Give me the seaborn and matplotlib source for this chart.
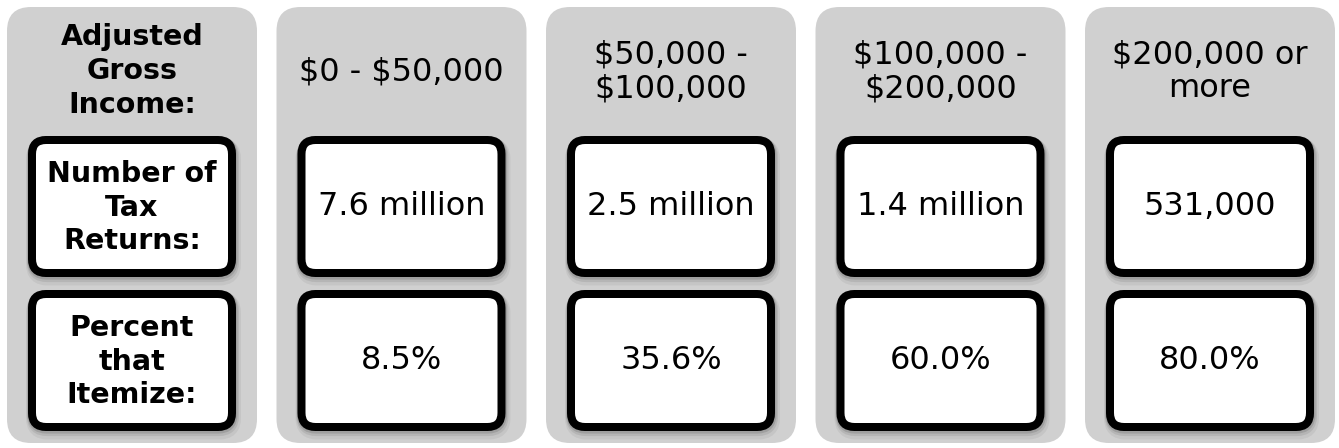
import matplotlib
matplotlib.use("Agg")
import matplotlib.pyplot as plt
import seaborn as sns
from matplotlib.patches import FancyBboxPatch

# ---- data ----
row_labels = ["Adjusted\nGross\nIncome:", "Number of\nTax\nReturns:", "Percent\nthat\nItemize:"]
income_brackets = ["$0 - $50,000", "$50,000 -\n$100,000", "$100,000 -\n$200,000", "$200,000 or\nmore"]
tax_returns = ["7.6 million", "2.5 million", "1.4 million", "531,000"]
percent_itemize = [8.5, 35.6, 60.0, 80.0]

sns.set_theme(style="white")
plt.rcParams['font.family'] = ['DejaVu Sans']
plt.rcParams['text.color'] = 'black'

W, H = 1339, 448
fig = plt.figure(figsize=(W / 100, H / 100), dpi=100)
ax = fig.add_axes([0, 0, 1, 1])
ax.set_xlim(0, W)
ax.set_ylim(H, 0)
ax.axis('off')

PANEL_GRAY = "#d0d0d0"
col_x0, col_step, col_w = 7, 269.5, 250
panel_top, panel_bot = 7, 443
box_rows = [(136, 277), (290, 431)]
inset = 21
border_px = 8
lw_pt = border_px * 72 / 100


def panel(x0):
    ax.add_patch(FancyBboxPatch((x0, panel_top), col_w, panel_bot - panel_top,
                                boxstyle="round,pad=0,rounding_size=24",
                                fc=PANEL_GRAY, ec="none", zorder=1))


def box(x0, row):
    top, bot = box_rows[row]
    bx0 = x0 + inset + border_px / 2
    bx1 = x0 + col_w - inset - border_px / 2
    by0 = top + border_px / 2
    by1 = bot - border_px / 2
    for k, a in [(5, 0.05), (3, 0.08), (1.5, 0.12)]:
        ax.add_patch(FancyBboxPatch((bx0 + k * 0.3, by0 + k), bx1 - bx0, by1 - by0,
                                    boxstyle="round,pad=0,rounding_size=14",
                                    fc="none", ec=(0, 0, 0, a), lw=lw_pt + k, zorder=2))
    ax.add_patch(FancyBboxPatch((bx0, by0), bx1 - bx0, by1 - by0,
                                boxstyle="round,pad=0,rounding_size=14",
                                fc="white", ec="black", lw=lw_pt, zorder=3))
    return (bx0 + bx1) / 2, (by0 + by1) / 2


fs_bold = 20.5
fs_reg = 23

x0 = col_x0
panel(x0)
cx = x0 + col_w / 2
ax.text(cx, 71, row_labels[0], ha="center", va="center", fontsize=fs_bold,
        fontweight="bold", linespacing=1.26, zorder=4, parse_math=False, color="black")
for r in range(2):
    bcx, bcy = box(x0, r)
    ax.text(bcx, bcy + 1, row_labels[r + 1], ha="center", va="center", fontsize=fs_bold,
            fontweight="bold", linespacing=1.26, zorder=4, parse_math=False, color="black")

for i, (hdr, ret, pct) in enumerate(zip(income_brackets, tax_returns, percent_itemize)):
    x0 = col_x0 + (i + 1) * col_step
    panel(x0)
    cx = x0 + col_w / 2
    ax.text(cx, 72, hdr, ha="center", va="center", fontsize=fs_reg,
            linespacing=1.12, zorder=4, parse_math=False, color="black")
    bcx, bcy = box(x0, 0)
    ax.text(bcx, bcy, ret, ha="center", va="center", fontsize=fs_reg, zorder=4,
            parse_math=False, color="black")
    bcx, bcy = box(x0, 1)
    ax.text(bcx, bcy, f"{pct:.1f}%", ha="center", va="center", fontsize=fs_reg,
            zorder=4, parse_math=False, color="black")

fig.savefig("out.png", dpi=100, facecolor="white")
